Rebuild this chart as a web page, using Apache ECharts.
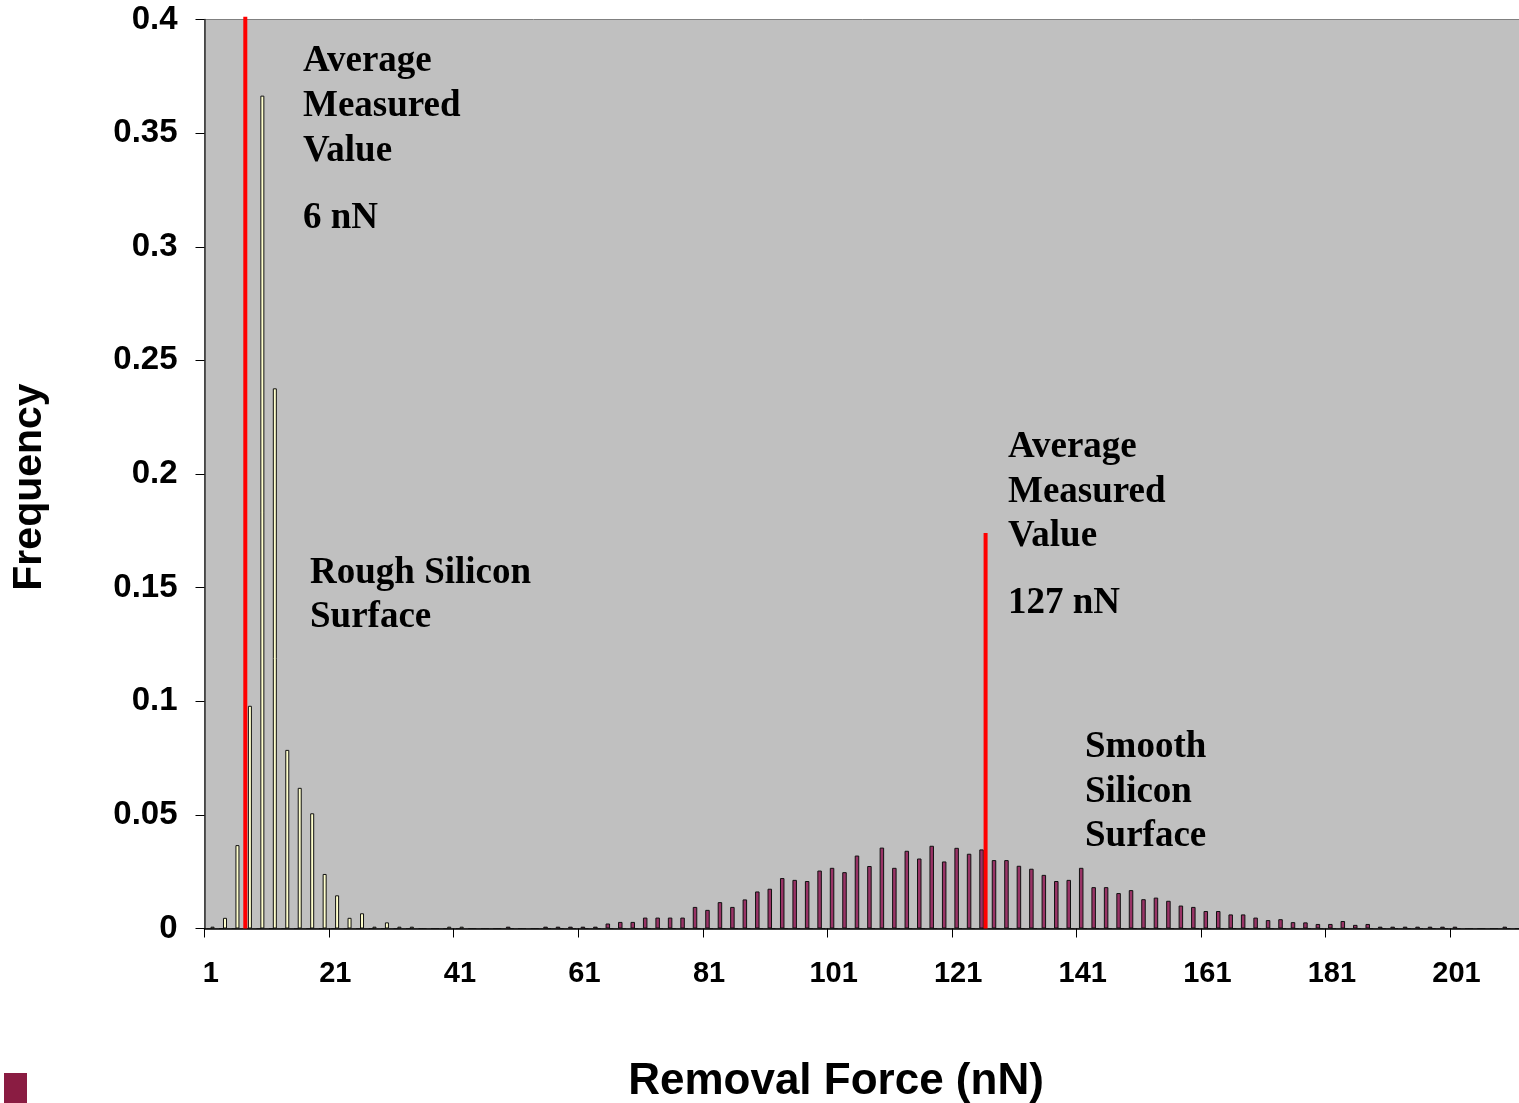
<!DOCTYPE html>
<html>
<head>
<meta charset="utf-8">
<script src="https://cdn.jsdelivr.net/npm/echarts@6/dist/echarts.min.js"></script>
<style>
html,body{margin:0;padding:0;background:#fff;}
#chart{width:1519px;height:1103px;}
</style>
</head>
<body>
<div id="chart"></div>
<script>
// Categories: removal force bins (nN)
const categories = ['1','3','5','7','9','11','13','15','17','19','21','23','25','27','29','31','33','35','37','39',
'41','43','45','47','49','51','53','55','57','59','61','63','65','67','69','71','73','75','77','79',
'81','83','85','87','89','91','93','95','97','99','101','103','105','107','109','111','113','115','117','119',
'121','123','125','127','129','131','133','135','137','139','141','143','145','147','149','151','153','155','157','159',
'161','163','165','167','169','171','173','175','177','179','181','183','185','187','189','191','193','195','197','199',
'201','203','205','207','209','211'];

// Smooth silicon surface frequencies (one per category)
const smoothValues = [0,0,0,0,0,0,0,0,0,0,
0,0,0,0,0,0,0,0,0,0,
0,0,0,0,0.0008,0,0,0.0008,0.0008,0.0008,
0.0008,0.0008,0.0022,0.0029,0.0029,0.0048,0.0048,0.0048,0.0048,0.0095,
0.0082,0.0116,0.0095,0.0128,0.0163,0.0175,0.0222,0.0214,0.0209,0.0255,
0.0267,0.0248,0.0321,0.0275,0.0356,0.0267,0.0342,0.0308,0.0364,0.0295,
0.0355,0.0329,0.0348,0.0301,0.0301,0.0276,0.0263,0.0236,0.0209,0.0214,
0.0267,0.0182,0.0182,0.0156,0.0169,0.0129,0.0136,0.0122,0.0101,0.0095,
0.0077,0.0077,0.0062,0.0062,0.0048,0.0037,0.0041,0.0028,0.0027,0.0020,
0.0020,0.0033,0.0016,0.0020,0.0008,0.0008,0.0008,0.0008,0.0008,0.0008,
0.0008,0,0,0,0.0008,0];

// Rough silicon surface frequencies (one per category)
const roughValues = [0.0008,0.0047,0.0367,0.098,0.3665,0.2377,0.0786,0.0619,0.0507,0.024,
0.0146,0.0047,0.0067,0.0008,0.0027,0.0008,0.0008,0,0,0.0008,
0.0008,0,0,0,0,0,0,0,0,0,
0,0,0,0,0,0,0,0,0,0,
0,0,0,0,0,0,0,0,0,0,
0,0,0,0,0,0,0,0,0,0,
0,0,0,0,0,0,0,0,0,0,
0,0,0,0,0,0,0,0,0,0,
0,0,0,0,0,0,0,0,0,0,
0,0,0,0,0,0,0,0,0,0,
0,0,0,0,0,0];

// Average measured value markers (x in nN, top in frequency units)
const markerX = [6.55, 125.4];
const markerTop = [0.4012, 0.174];

// Y tick settings
const yMin = 0, yMax = 0.4, yStep = 0.05;

const chart = echarts.init(document.getElementById('chart'), null, {renderer:'canvas'});

const annoFont = {fontFamily:'"Liberation Serif","Times New Roman",serif', fontWeight:'bold', fontSize:37, fill:'#000'};
function annot(text, x, y){
  return {type:'text', left:x, top:y, silent:true, z:20,
    style:Object.assign({text:text}, annoFont)};
}

const option = {
  animation:false,
  backgroundColor:'#ffffff',
  grid:{left:204.5, top:19.5, width:1320.5, height:909, show:true,
        backgroundColor:'#C0C0C0', borderColor:'#808080', borderWidth:1,
        containLabel:false, outerBoundsMode:'none'},
  xAxis:[{
    type:'category', data:categories, boundaryGap:true,
    axisLine:{show:true, lineStyle:{color:'#000', width:1.5}},
    axisTick:{show:true, interval:9, length:9, alignWithLabel:false, lineStyle:{color:'#000', width:1}},
    axisLabel:{interval:9, margin:31, color:'#000', fontFamily:'"Liberation Sans",Arial,sans-serif',
               fontWeight:'bold', fontSize:29},
    splitLine:{show:false}
  },{
    type:'value', min:0, max:212, show:false, gridIndex:0
  }],
  yAxis:{
    type:'value', min:yMin, max:yMax, interval:yStep,
    axisLine:{show:true, lineStyle:{color:'#333', width:1.5}},
    axisTick:{show:true, length:9, inside:false, lineStyle:{color:'#000'}},
    axisLabel:{margin:27, color:'#000', fontFamily:'"Liberation Sans",Arial,sans-serif',
               fontWeight:'bold', fontSize:33, padding:[6,0,0,0]},
    splitLine:{show:false}
  },
  series:[
    {name:'Smooth Silicon Surface', type:'bar', data:smoothValues, barWidth:4.5, barGap:'-20%',
     itemStyle:{color:'#993366', borderColor:'#111', borderWidth:1}, silent:true},
    {name:'Rough Silicon Surface', type:'bar', data:roughValues, barWidth:4, barGap:'-20%',
     itemStyle:{color:'#FFFFCC', borderColor:'#111', borderWidth:1}, silent:true}
  ].concat(markerX.map(function(x,k){
    return {type:'line', xAxisIndex:1, yAxisIndex:0, data:[[x,0],[x,markerTop[k]]],
      symbol:'none', clip:false, z:5, silent:true,
      lineStyle:{color:'#FF0000', width:4}};
  })),
  graphic:[
    annot('Average', 303, 43),
    annot('Measured', 303, 88),
    annot('Value', 303, 133),
    annot('6 nN', 303, 200),
    annot('Rough Silicon', 310, 555),
    annot('Surface', 310, 599),
    annot('Average', 1008, 429),
    annot('Measured', 1008, 474),
    annot('Value', 1008, 518),
    annot('127 nN', 1008, 585),
    annot('Smooth', 1085, 729),
    annot('Silicon', 1085, 774),
    annot('Surface', 1085, 818),
    {type:'text', x:30, y:487, rotation:Math.PI/2, silent:true,
     style:{text:'Frequency', fontFamily:'"Liberation Sans",Arial,sans-serif', fontWeight:'bold',
            fontSize:41, fill:'#000', textAlign:'center', textVerticalAlign:'middle'}},
    {type:'text', x:836, y:1082, silent:true,
     style:{text:'Removal Force (nN)', fontFamily:'"Liberation Sans",Arial,sans-serif', fontWeight:'bold',
            fontSize:44, fill:'#000', textAlign:'center', textVerticalAlign:'middle'}},
    {type:'rect', shape:{x:4, y:1073, width:23, height:40}, silent:true,
     style:{fill:'#8A1C42'}}
  ]
};
chart.setOption(option);
</script>
</body>
</html>
